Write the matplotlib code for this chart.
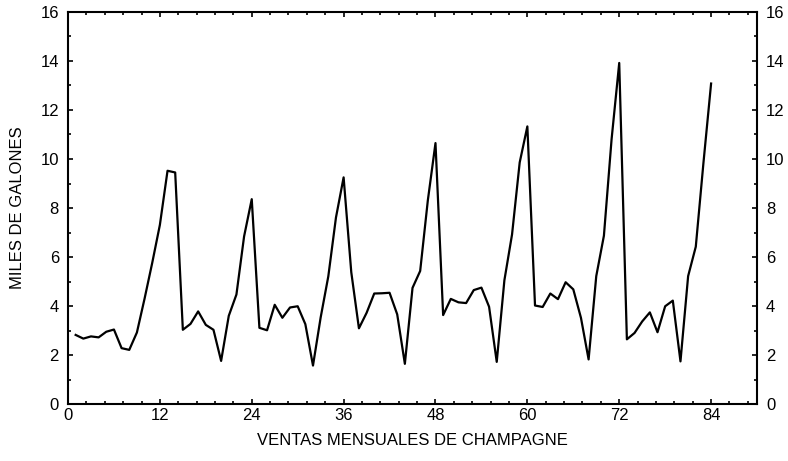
#!/usr/bin/env python
"""Ventas mensuales de champagne (miles de galones)."""

import matplotlib
matplotlib.use("Agg")
import matplotlib.pyplot as plt
from matplotlib.ticker import MultipleLocator

plt.rcParams["font.family"] = ["Liberation Sans", "DejaVu Sans"]

months = list(range(1, 85))
sales = [
    2.82, 2.67, 2.76, 2.72, 2.95, 3.04, 2.28, 2.21, 2.92, 4.30, 5.76, 7.31,
    9.52, 9.45, 3.03, 3.27, 3.78, 3.23, 3.03, 1.76, 3.60, 4.47, 6.84, 8.36,
    3.11, 3.01, 4.05, 3.52, 3.94, 3.99, 3.26, 1.57, 3.53, 5.21, 7.61, 9.25,
    5.38, 3.09, 3.72, 4.51, 4.52, 4.54, 3.66, 1.64, 4.74, 5.43, 8.31, 10.65,
    3.63, 4.29, 4.15, 4.12, 4.65, 4.75, 3.97, 1.72, 5.05, 6.92, 9.86, 11.33,
    4.02, 3.96, 4.51, 4.28, 4.97, 4.68, 3.52, 1.82, 5.22, 6.87, 10.80, 13.92,
    2.64, 2.90, 3.37, 3.74, 2.93, 3.99, 4.22, 1.74, 5.22, 6.42, 9.84, 13.08,
]
x_ticks = [0, 12, 24, 36, 48, 60, 72, 84]
y_ticks = [0, 2, 4, 6, 8, 10, 12, 14, 16]


def main() -> None:
    fig = plt.figure(figsize=(7.88, 4.61), dpi=100)
    ax = fig.add_axes([0.0863, 0.1236, 0.8744, 0.8504])

    ax.plot(months, sales, color="black", linewidth=1.6)

    ax.set_xlim(0, 90)
    ax.set_ylim(0, 16)
    ax.set_xticks(x_ticks)
    ax.set_yticks(y_ticks)
    ax.xaxis.set_minor_locator(MultipleLocator(2.4))
    ax.yaxis.set_minor_locator(MultipleLocator(1))

    ax.tick_params(which="both", direction="in", top=True, right=True,
                   labelright=True, width=1.2, colors="black")
    ax.tick_params(which="major", length=3.5, labelsize=12)
    ax.tick_params(which="minor", length=2.5)
    ax.tick_params(axis="x", which="major", pad=3)
    ax.tick_params(axis="y", which="major", pad=6.5)
    for spine in ax.spines.values():
        spine.set_linewidth(1.5)

    ax.set_xlabel("VENTAS MENSUALES DE CHAMPAGNE", fontsize=12, labelpad=7)
    ax.set_ylabel("MILES DE GALONES", fontsize=12, labelpad=11)

    fig.savefig("out.png", dpi=100)
    plt.close(fig)


if __name__ == "__main__":
    main()
